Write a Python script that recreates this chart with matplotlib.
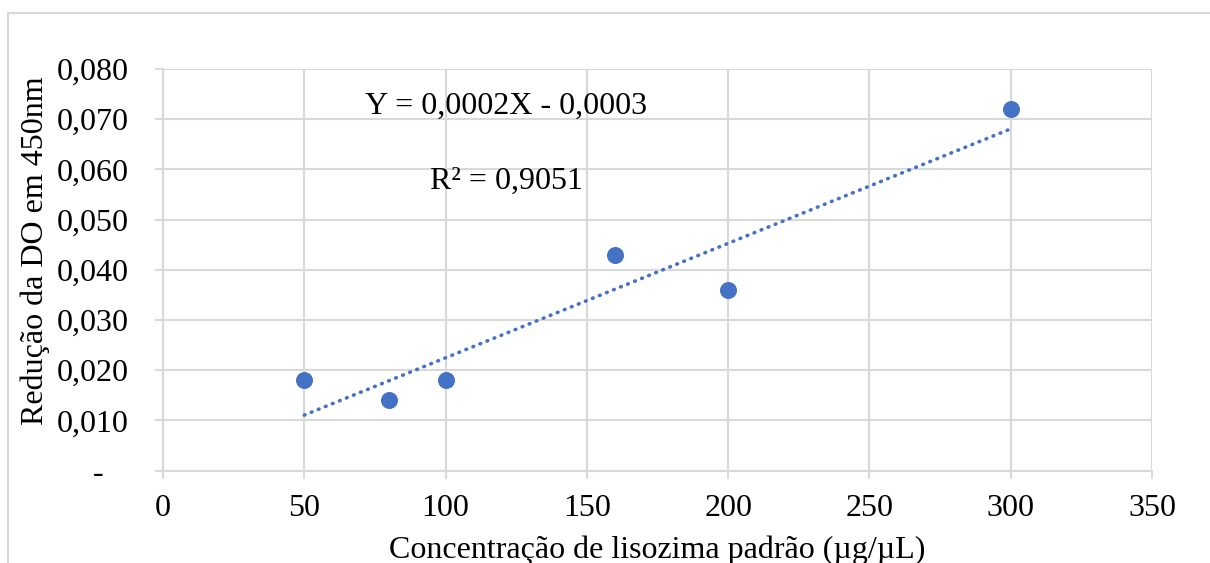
import numpy as np
import matplotlib
matplotlib.use("Agg")
import matplotlib.pyplot as plt
from matplotlib.patches import Rectangle
from matplotlib.transforms import ScaledTranslation

# Data
conc = [50, 80, 100, 160, 200, 300]
reducao = [0.018, 0.014, 0.018, 0.043, 0.036, 0.072]
x_ticks = [0, 50, 100, 150, 200, 250, 300, 350]
y_ticks = [0.0, 0.01, 0.02, 0.03, 0.04, 0.05, 0.06, 0.07, 0.08]
y_tick_labels = ["-", "0,010", "0,020", "0,030", "0,040", "0,050", "0,060", "0,070", "0,080"]
eq_text = "Y = 0,0002X - 0,0003"
r2_text = "R² = 0,9051"
x_label = "Concentração de lisozima padrão (µg/µL)"
y_label = "Redução da DO em 450nm"

W, H, DPI = 1210, 563, 100
plt.rcParams['font.family'] = ['Liberation Serif', 'DejaVu Serif']
FS = 23
GRID = '#d9d9d9'
BLUE = '#4472C4'

fig = plt.figure(figsize=(W / DPI, H / DPI), dpi=DPI)

def px(x, y):
    return x / W, 1 - y / H

# chart border
fig.patches.append(Rectangle(px(8, 600), 1.2, (600 - 13) / H, transform=fig.transFigure,
                             fill=False, edgecolor=GRID, linewidth=1.5, zorder=0))

l, t, r, b = 163, 69, 1152, 470.7
ax = fig.add_axes([l / W, 1 - b / H, (r - l) / W, (b - t) / H])
ax.set_xlim(0, 350)
ax.set_ylim(0, 0.08)
ax.set_xticks(x_ticks)
ax.set_xticklabels([str(v) for v in x_ticks])
ax.set_yticks(y_ticks)
ax.set_yticklabels(y_tick_labels)
ax.grid(True, color=GRID, linewidth=1.5, zorder=0)
ax.set_axisbelow(True)
for s in ['top', 'right']:
    ax.spines[s].set_visible(False)
for s in ['left', 'bottom']:
    ax.spines[s].set_color(GRID)
    ax.spines[s].set_linewidth(1.5)
ax.tick_params(axis='both', colors=GRID, labelcolor='black', labelsize=FS,
               length=5.8, width=1.5)
ax.tick_params(axis='y', pad=19)
ax.tick_params(axis='x', pad=11)

# offset the "-" label
lab0 = ax.get_yticklabels()[0]
lab0.set_transform(lab0.get_transform() + ScaledTranslation(-25 / DPI, 0, fig.dpi_scale_trans))

ax.scatter(conc, reducao, s=150, color=BLUE, zorder=3, linewidths=0)

# linear trendline
coef = np.polyfit(conc, reducao, 1)
xs = np.array([min(conc), max(conc)])
ax.plot(xs, np.polyval(coef, xs), color=BLUE, linewidth=2.6,
        linestyle=(0, (0.2, 1.9)), dash_capstyle='round', zorder=2)

ax.text(71.5, 0.0726, eq_text, fontsize=FS, ha='left', va='center')
ax.text(94.5, 0.0577, r2_text, fontsize=FS, ha='left', va='center')

fig.text(*px(35, 251), y_label, rotation=90, fontsize=FS, ha='center', va='center')
fig.text(*px(657, 558), x_label, fontsize=FS, ha='center', va='baseline')

fig.savefig('out.png', dpi=DPI)
